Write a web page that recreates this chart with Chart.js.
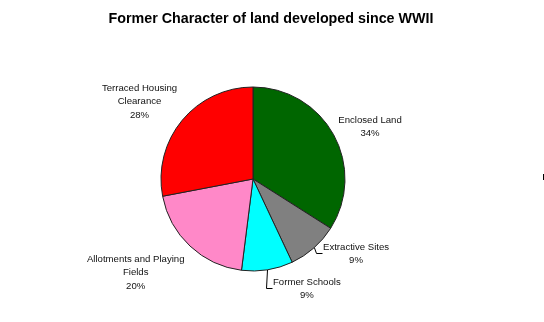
<!DOCTYPE html>
<html>
<head>
<meta charset="utf-8">
<script src="https://cdn.jsdelivr.net/npm/chart.js@4/dist/chart.umd.min.js"></script>
<style>
  body { margin: 0; background: #fff; }
  #wrap { position: relative; width: 544px; height: 322px; }
  #tick { position: absolute; left: 543px; top: 174px; width: 1px; height: 6px; background: #000; }
</style>
</head>
<body>
<div id="wrap">
  <canvas id="landChart" width="544" height="322"></canvas>
  <div id="tick"></div>
</div>
<script>
    const chartTitle = 'Former Character of land developed since WWII';
    const categories = ['Enclosed Land', 'Extractive Sites', 'Former Schools', 'Allotments and Playing Fields', 'Terraced Housing Clearance'];
    const shares = [34, 9, 9, 20, 28];
    const sliceColors = ['#006600', '#808080', '#00ffff', '#ff88c8', '#ff0000'];

    // where each label sits: centred block offset from the pie centre, or a leader line
    const labelPlacement = [
        { block: [117, -53] },
        { leader: [2, 5] },
        { leader: [-1.5, 18] },
        { block: [-117.3, 92.7] },
        { block: [-113.5, -78.3] }
    ];

    const labelFont = '9.6px "Liberation Sans", Arial, sans-serif';
    const lineGap = 13.3;
    const capHeight = 7;

    function wrapText(ctx, text, maxWidth) {
        const words = text.split(' ');
        const lines = [];
        let line = '';
        words.forEach(w => {
            const test = line ? line + ' ' + w : w;
            if (line && ctx.measureText(test).width > maxWidth) {
                lines.push(line);
                line = w;
            } else {
                line = test;
            }
        });
        lines.push(line);
        return lines;
    }

    function drawBlock(ctx, lines, cx, cy) {
        const h = (lines.length - 1) * lineGap + capHeight;
        let y = cy - h / 2 + capHeight;
        lines.forEach(l => {
            ctx.fillText(l, cx, y);
            y += lineGap;
        });
    }

    const pieLabels = {
        id: 'pieLabels',
        afterDraw(chart) {
            const ctx = chart.ctx;
            const meta = chart.getDatasetMeta(0);
            const total = shares.reduce((a, b) => a + b, 0);

            ctx.save();
            ctx.fillStyle = '#000';
            ctx.textAlign = 'center';
            ctx.textBaseline = 'alphabetic';
            ctx.font = 'bold 14.3px "Liberation Sans", Arial, sans-serif';
            ctx.fillText(chartTitle, 271, 23.3);

            ctx.font = labelFont;
            ctx.fillStyle = '#111';
            ctx.strokeStyle = '#000';
            ctx.lineWidth = 1;

            meta.data.forEach((arc, i) => {
                const { x, y, startAngle, endAngle, outerRadius } = arc.getProps(['x', 'y', 'startAngle', 'endAngle', 'outerRadius'], true);
                const lines = wrapText(ctx, categories[i], 100);
                lines.push(Math.round(shares[i] / total * 100) + '%');
                const place = labelPlacement[i];

                if (place.block) {
                    drawBlock(ctx, lines, x + place.block[0], y + place.block[1]);
                } else {
                    const mid = (startAngle + endAngle) / 2;
                    const px = x + Math.cos(mid) * outerRadius;
                    const py = y + Math.sin(mid) * outerRadius;
                    const ex = px + place.leader[0];
                    const ey = py + place.leader[1];
                    ctx.beginPath();
                    ctx.moveTo(Math.round(px) + 0.5, py);
                    ctx.lineTo(Math.round(ex) + 0.5, Math.round(ey) + 0.5);
                    ctx.lineTo(Math.round(ex) + 6.5, Math.round(ey) + 0.5);
                    ctx.stroke();
                    const w = Math.max(...lines.map(l => ctx.measureText(l).width));
                    drawBlock(ctx, lines, Math.round(ex) + 7 + w / 2, ey);
                }
            });
            ctx.restore();
        }
    };

    new Chart(document.getElementById('landChart'), {
        type: 'pie',
        data: {
            labels: categories,
            datasets: [{
                data: shares,
                backgroundColor: sliceColors,
                borderColor: '#222',
                borderWidth: 1
            }]
        },
        options: {
            responsive: false,
            animation: false,
            radius: 92,
            layout: { padding: { left: 20, right: 58, top: 46, bottom: 10 } },
            plugins: {
                legend: { display: false },
                tooltip: { enabled: false },
                title: { display: false }
            }
        },
        plugins: [pieLabels]
    });
</script>
</body>
</html>
